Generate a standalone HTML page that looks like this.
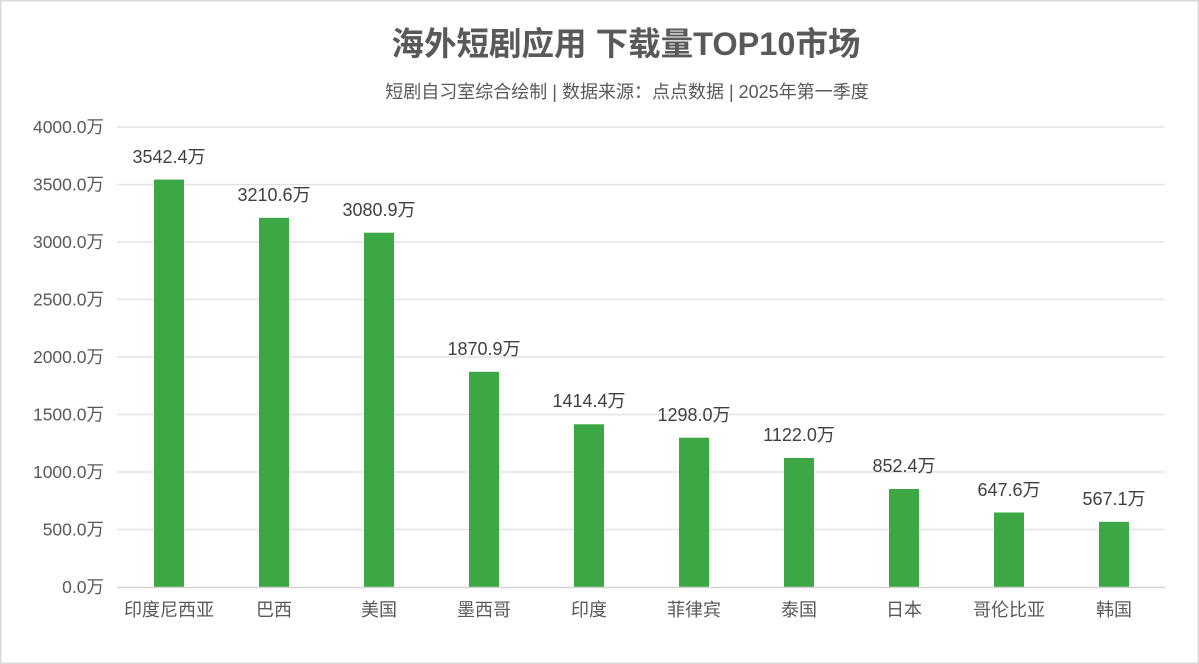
<!DOCTYPE html>
<html><head><meta charset="utf-8"><style>
html,body{margin:0;padding:0;background:#fff;}
svg{display:block;font-family:"Liberation Sans","Noto Sans CJK SC",sans-serif;}
</style></head><body>
<svg width="1199" height="664" viewBox="0 0 1199 664" xmlns="http://www.w3.org/2000/svg">
<rect x="0.75" y="0.75" width="1197.5" height="662.5" fill="#fff" stroke="#d9d9d9" stroke-width="1.5"/>
<text x="626" y="55" text-anchor="middle" font-size="32.5" font-weight="bold" fill="#595959">海外短剧应用 下载量TOP10市场</text>
<text x="627" y="98" text-anchor="middle" font-size="18" fill="#595959">短剧自习室综合绘制 | 数据来源：点点数据 | 2025年第一季度</text>
<g stroke="#e3e3e3" stroke-width="1.5">
<line x1="117" x2="1165" y1="127" y2="127"/>
<line x1="117" x2="1165" y1="184.5" y2="184.5"/>
<line x1="117" x2="1165" y1="242" y2="242"/>
<line x1="117" x2="1165" y1="299.5" y2="299.5"/>
<line x1="117" x2="1165" y1="357" y2="357"/>
<line x1="117" x2="1165" y1="414.5" y2="414.5"/>
<line x1="117" x2="1165" y1="472" y2="472"/>
<line x1="117" x2="1165" y1="529.5" y2="529.5"/>
</g>
<g font-size="17.5" fill="#595959" text-anchor="end">
<text x="104" y="133">4000.0万</text>
<text x="104" y="190.5">3500.0万</text>
<text x="104" y="248">3000.0万</text>
<text x="104" y="305.5">2500.0万</text>
<text x="104" y="363">2000.0万</text>
<text x="104" y="420.5">1500.0万</text>
<text x="104" y="478">1000.0万</text>
<text x="104" y="535.5">500.0万</text>
<text x="104" y="593">0.0万</text>
</g>
<g fill="#3ca744">
<rect x="154" y="179.6" width="30" height="407.4"/>
<rect x="259" y="217.8" width="30" height="369.2"/>
<rect x="364" y="232.7" width="30" height="354.3"/>
<rect x="469" y="371.8" width="30" height="215.2"/>
<rect x="574" y="424.3" width="30" height="162.7"/>
<rect x="679" y="437.7" width="30" height="149.3"/>
<rect x="784" y="458" width="30" height="129"/>
<rect x="889" y="489" width="30" height="98"/>
<rect x="994" y="512.5" width="30" height="74.5"/>
<rect x="1099" y="521.8" width="30" height="65.2"/>
</g>
<line x1="117" x2="1165" y1="587.5" y2="587.5" stroke="#d4d4d4" stroke-width="1.5"/>
<g font-size="18" fill="#404040" text-anchor="middle">
<text x="169" y="163">3542.4万</text>
<text x="274" y="201">3210.6万</text>
<text x="379" y="216">3080.9万</text>
<text x="484" y="355">1870.9万</text>
<text x="589" y="407">1414.4万</text>
<text x="694" y="421">1298.0万</text>
<text x="799" y="441">1122.0万</text>
<text x="904" y="472">852.4万</text>
<text x="1009" y="496">647.6万</text>
<text x="1114" y="505">567.1万</text>
</g>
<g font-size="18" fill="#595959" text-anchor="middle">
<text x="169" y="616">印度尼西亚</text>
<text x="274" y="616">巴西</text>
<text x="379" y="616">美国</text>
<text x="484" y="616">墨西哥</text>
<text x="589" y="616">印度</text>
<text x="694" y="616">菲律宾</text>
<text x="799" y="616">泰国</text>
<text x="904" y="616">日本</text>
<text x="1009" y="616">哥伦比亚</text>
<text x="1114" y="616">韩国</text>
</g>
</svg>
</body></html>
